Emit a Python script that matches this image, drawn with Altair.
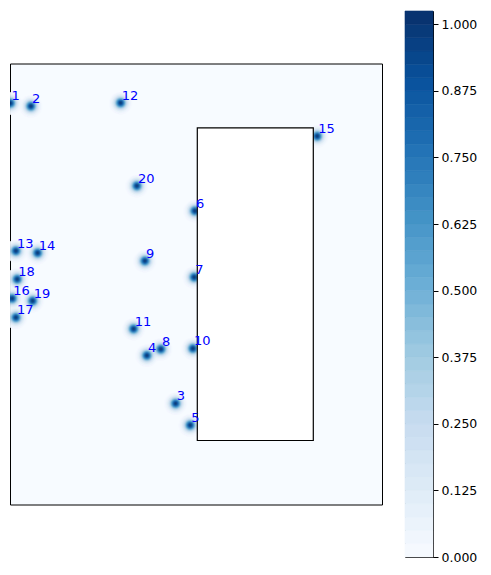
import numpy as np
import pandas as pd
import altair as alt

# ---- data (plot units: 0..372 wide, 0..441 tall, y downward) ----
point_labels = [str(i) for i in range(1, 21)]
point_x = [0.5, 21, 165.7, 137, 180.3, 185, 184.3, 151, 135, 183,
           123.7, 110.7, 6, 27.7, 307.3, 2.3, 6, 7.3, 22.7, 127]
point_y = [40, 43, 340.3, 292.3, 362, 147.7, 214, 286, 197.7, 285.3,
           265.7, 39.7, 187.7, 189.7, 73, 235.3, 254.3, 216, 237.7, 122.7]

box_x = [187.3, 303.3]
box_y = [64.3, 377.0]

cbar_ticks = [0.0, 0.125, 0.25, 0.375, 0.5, 0.625, 0.75, 0.875, 1.0]
vmax = 1.025

W, H = 372, 441
sigma = 3.7

# ---- density field built from the points (kernel blobs) ----
gx = np.arange(W) + 0.5
gy = np.arange(H) + 0.5
GX, GY = np.meshgrid(gx, gy)
Z = np.zeros_like(GX)
for x, y in zip(point_x, point_y):
    Z += np.exp(-((GX - x) ** 2 + (GY - y) ** 2) / (2 * sigma ** 2))
mask = Z > 0.012
cells = pd.DataFrame({
    "x0": GX[mask] - 0.5, "x1": GX[mask] + 0.5,
    "y0": GY[mask] - 0.5, "y1": GY[mask] + 0.5,
    "v": Z[mask],
})

blues = ["#f7fbff", "#deebf7", "#c6dbef", "#9ecae1", "#6baed6",
         "#4292c6", "#2171b5", "#08519c", "#08306b"]
color_domain = list(np.linspace(0, vmax, len(blues)))
cscale = alt.Scale(domain=color_domain, range=blues, interpolate="rgb", clamp=True)

xs = alt.Scale(domain=[0, W], nice=False, zero=False)
ys = alt.Scale(domain=[0, H], nice=False, zero=False, reverse=True)

heat = alt.Chart(cells).mark_rect(clip=True, strokeWidth=0.4).encode(
    x=alt.X("x0:Q", scale=xs, axis=None),
    x2="x1:Q",
    y=alt.Y("y0:Q", scale=ys, axis=None),
    y2="y1:Q",
    color=alt.Color("v:Q", scale=cscale, legend=None),
    stroke=alt.Stroke("v:Q", scale=cscale, legend=None),
)

box_df = pd.DataFrame({"bx0": [box_x[0]], "bx1": [box_x[1]], "by0": [box_y[0]], "by1": [box_y[1]]})
box = alt.Chart(box_df).mark_rect(fill="white", stroke="black", strokeWidth=1.2).encode(
    x=alt.X("bx0:Q", scale=xs, axis=None), x2="bx1:Q",
    y=alt.Y("by0:Q", scale=ys, axis=None), y2="by1:Q",
)

pts = pd.DataFrame({"x": point_x, "y": point_y, "label": point_labels})
text = alt.Chart(pts).mark_text(
    align="left", baseline="alphabetic", dx=1, dy=-3.5,
    color="#0000ff", font="DejaVu Sans", fontSize=13,
).encode(
    x=alt.X("x:Q", scale=xs, axis=None),
    y=alt.Y("y:Q", scale=ys, axis=None),
    text="label:N",
)

main = alt.layer(heat, box, text).properties(
    width=W, height=H,
    view=alt.ViewBackground(fill="#f7fbff", stroke="black", strokeWidth=1),
)

# ---- colorbar ----
lo = np.round(np.arange(0, vmax - 1e-9, 0.025), 4)
bands = pd.DataFrame({"lo": lo, "hi": lo + 0.025, "mid": lo + 0.0125, "xa": 0.0, "xb": 1.0})
cbar = alt.Chart(bands).mark_rect(strokeWidth=0.6).encode(
    x=alt.X("xa:Q", scale=alt.Scale(domain=[0, 1], nice=False), axis=None),
    x2="xb:Q",
    y=alt.Y("lo:Q", scale=alt.Scale(domain=[0, vmax], nice=False, zero=False),
            axis=alt.Axis(orient="right", values=cbar_ticks, format=".3f",
                          labelFont="DejaVu Sans", labelFontSize=12.5, labelColor="black",
                          tickColor="black", tickSize=5, tickWidth=1, labelPadding=3,
                          domain=False, grid=False, title=None)),
    y2="hi:Q",
    color=alt.Color("mid:Q", scale=cscale, legend=None),
    stroke=alt.Stroke("mid:Q", scale=cscale, legend=None),
).properties(
    width=28, height=546,
    view=alt.ViewBackground(fill="white", stroke="black", strokeWidth=1),
)

chart = alt.hconcat(main, cbar, spacing=23, center=True, bounds="flush").properties(
    padding={"left": 1, "top": 2, "right": 2, "bottom": 2},
).resolve_scale(color="shared", stroke="shared")

chart.save("out.html", embed_options={"renderer": "svg", "actions": False})
